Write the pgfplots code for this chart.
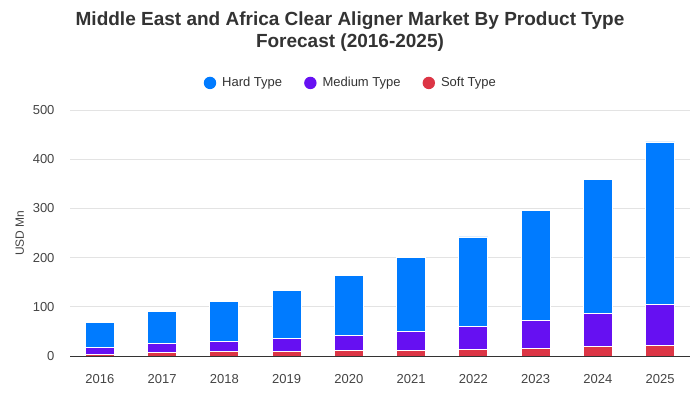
\documentclass[border=0pt]{standalone}
\usepackage{pgfplots}
\pgfplotsset{compat=1.18}
\usepackage{fontspec}
\setmainfont{Liberation Sans}
\definecolor{hardc}{HTML}{007BFF}
\definecolor{medc}{HTML}{6610F2}
\definecolor{softc}{HTML}{DC3545}
\definecolor{gridc}{HTML}{E3E3E3}
\definecolor{txtc}{HTML}{444444}
\definecolor{titlec}{HTML}{333333}
\begin{document}
\begin{tikzpicture}[x=1pt,y=1pt]
\path[use as bounding box] (0,0) rectangle (700,400);
\node[align=center,text=titlec,font=\fontsize{19}{22}\selectfont\bfseries] at (350,368) {Middle East and Africa Clear Aligner Market By Product Type\\Forecast (2016-2025)};
\begin{axis}[
  at={(70pt,44pt)}, anchor=south west,
  width=620pt, height=246pt, scale only axis,
  ybar stacked, bar width=29pt,
  xmin=-0.48, xmax=9.48,
  ymin=0, ymax=500,
  xtick={0,...,9},
  xticklabels={2016,2017,2018,2019,2020,2021,2022,2023,2024,2025},
  ytick={0,100,200,300,400,500},
  ymajorgrids, grid style={gridc, line width=0.8pt},
  axis x line*=bottom, axis y line*=left,
  x axis line style={draw=none},
  y axis line style={draw=none},
  major tick length=0pt,
  /pgf/number format/assume math mode=true,
  ticklabel style={font=\fontsize{13}{15}\selectfont, text=txtc},
  xticklabel style={yshift=-15pt},
  yticklabel style={xshift=-12pt},
  ylabel={USD Mn}, ylabel style={font=\fontsize{12}{14}\selectfont, text=txtc, yshift=2pt},
  legend style={at={(axis description cs:0.453,1.11)}, anchor=center, draw=none, legend columns=3, font=\fontsize{13}{15}\selectfont, text=titlec, /tikz/every even column/.append style={column sep=20pt}, /tikz/every odd column/.append style={column sep=4pt}},
  legend image code/.code={\path[#1,draw=none] (0pt,0pt) circle (6.2pt);},
  legend cell align=left,
  reverse legend,
]
\addplot[fill=softc, draw=white, line width=0.8pt] coordinates {(0,3) (1,7) (2,9) (3,10) (4,11) (5,12) (6,14) (7,16) (8,20) (9,22)};
\addplot[fill=medc, draw=white, line width=0.8pt] coordinates {(0,14) (1,18) (2,20) (3,25) (4,30) (5,38) (6,46) (7,57) (8,67) (9,83)};
\addplot[fill=hardc, draw=white, line width=0.8pt] coordinates {(0,51) (1,66) (2,81) (3,99) (4,122) (5,150) (6,182) (7,222) (8,271) (9,330)};
\legend{Soft Type, Medium Type, Hard Type}
\end{axis}
\draw[titlec, line width=1pt] (70,44) -- (690,44);
\end{tikzpicture}
\end{document}
